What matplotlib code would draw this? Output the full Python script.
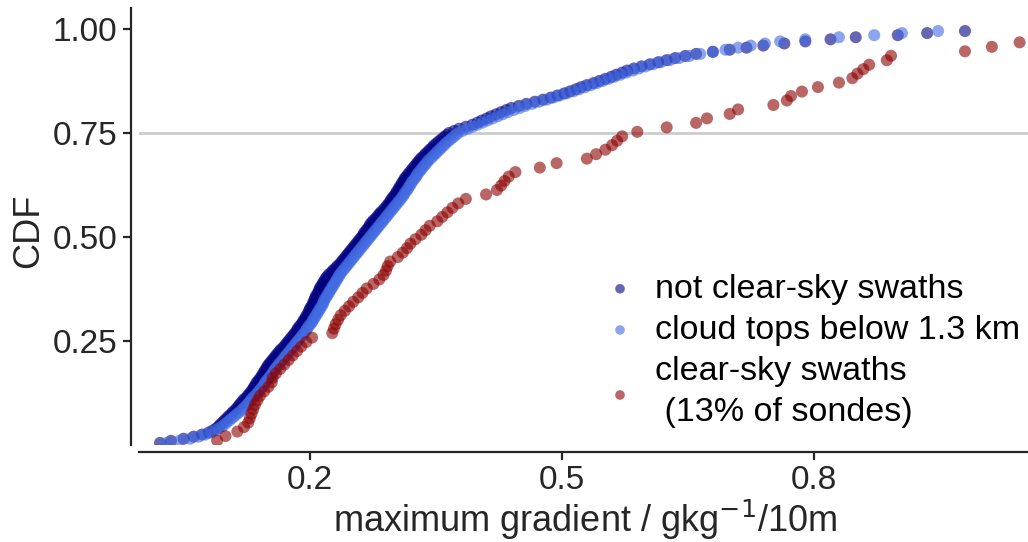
import numpy as np
import matplotlib
matplotlib.use("Agg")
import matplotlib.pyplot as plt

# sorted maximum-gradient values (gkg-1/10m)
not_clear = [
    0.022, 0.035, 0.050, 0.062, 0.072, 0.080, 0.085, 0.089, 0.092, 0.094,
    0.097, 0.099, 0.102, 0.104, 0.107, 0.109, 0.112, 0.114, 0.116, 0.118,
    0.120, 0.122, 0.125, 0.127, 0.129, 0.131, 0.133, 0.134, 0.136, 0.137,
    0.139, 0.141, 0.143, 0.144, 0.146, 0.147, 0.149, 0.150, 0.152, 0.154,
    0.156, 0.158, 0.160, 0.162, 0.164, 0.166, 0.169, 0.171, 0.173, 0.175,
    0.177, 0.179, 0.181, 0.183, 0.185, 0.186, 0.188, 0.190, 0.192, 0.193,
    0.195, 0.196, 0.198, 0.199, 0.200, 0.201, 0.203, 0.204, 0.205, 0.206,
    0.207, 0.208, 0.210, 0.211, 0.212, 0.213, 0.215, 0.216, 0.218, 0.219,
    0.221, 0.223, 0.226, 0.228, 0.231, 0.233, 0.236, 0.238, 0.240, 0.242,
    0.244, 0.246, 0.248, 0.250, 0.252, 0.254, 0.256, 0.258, 0.260, 0.262,
    0.264, 0.265, 0.267, 0.269, 0.271, 0.272, 0.274, 0.276, 0.279, 0.281,
    0.283, 0.285, 0.288, 0.290, 0.292, 0.294, 0.296, 0.297, 0.299, 0.301,
    0.303, 0.304, 0.306, 0.307, 0.309, 0.310, 0.312, 0.313, 0.315, 0.317,
    0.319, 0.321, 0.323, 0.325, 0.327, 0.329, 0.331, 0.333, 0.336, 0.338,
    0.341, 0.343, 0.346, 0.348, 0.351, 0.354, 0.357, 0.360, 0.363, 0.366,
    0.372, 0.378, 0.386, 0.394, 0.400, 0.405, 0.411, 0.416, 0.422, 0.428,
    0.434, 0.440, 0.449, 0.458, 0.468, 0.478, 0.487, 0.495, 0.503, 0.510,
    0.517, 0.523, 0.530, 0.538, 0.545, 0.552, 0.559, 0.565, 0.572, 0.578,
    0.586, 0.595, 0.605, 0.615, 0.625, 0.635, 0.647, 0.660, 0.680, 0.700,
    0.720, 0.740, 0.765, 0.790, 0.820, 0.850, 0.900, 0.935, 0.980,
]

low_tops = [
    0.030, 0.045, 0.058, 0.068, 0.076, 0.083, 0.088, 0.092, 0.096, 0.099,
    0.102, 0.105, 0.108, 0.111, 0.114, 0.117, 0.120, 0.122, 0.125, 0.127,
    0.129, 0.131, 0.133, 0.136, 0.138, 0.140, 0.142, 0.144, 0.146, 0.147,
    0.149, 0.151, 0.153, 0.155, 0.157, 0.158, 0.160, 0.162, 0.164, 0.166,
    0.168, 0.170, 0.172, 0.174, 0.176, 0.178, 0.180, 0.182, 0.184, 0.186,
    0.188, 0.190, 0.192, 0.194, 0.196, 0.197, 0.199, 0.201, 0.203, 0.204,
    0.206, 0.207, 0.209, 0.210, 0.212, 0.213, 0.215, 0.216, 0.217, 0.218,
    0.220, 0.221, 0.223, 0.224, 0.226, 0.227, 0.229, 0.230, 0.232, 0.233,
    0.235, 0.236, 0.238, 0.240, 0.242, 0.244, 0.246, 0.248, 0.250, 0.252,
    0.254, 0.256, 0.258, 0.260, 0.262, 0.264, 0.266, 0.268, 0.270, 0.272,
    0.274, 0.276, 0.278, 0.280, 0.282, 0.284, 0.286, 0.288, 0.290, 0.292,
    0.294, 0.296, 0.298, 0.300, 0.302, 0.304, 0.306, 0.308, 0.310, 0.312,
    0.313, 0.315, 0.317, 0.318, 0.320, 0.321, 0.323, 0.325, 0.327, 0.328,
    0.330, 0.332, 0.334, 0.336, 0.338, 0.340, 0.342, 0.345, 0.347, 0.350,
    0.352, 0.355, 0.357, 0.360, 0.362, 0.365, 0.368, 0.371, 0.374, 0.377,
    0.382, 0.388, 0.394, 0.400, 0.406, 0.412, 0.418, 0.424, 0.430, 0.436,
    0.443, 0.450, 0.457, 0.465, 0.473, 0.482, 0.490, 0.498, 0.506, 0.514,
    0.521, 0.528, 0.535, 0.542, 0.549, 0.556, 0.563, 0.570, 0.577, 0.585,
    0.592, 0.600, 0.609, 0.618, 0.629, 0.640, 0.652, 0.665, 0.680, 0.695,
    0.710, 0.725, 0.742, 0.760, 0.790, 0.830, 0.872, 0.905, 0.948,
]

clear_sky = [
    0.090, 0.100, 0.114, 0.122, 0.127, 0.129, 0.131, 0.133, 0.135, 0.138,
    0.141, 0.146, 0.151, 0.155, 0.156, 0.160, 0.165, 0.170, 0.175, 0.180,
    0.185, 0.190, 0.196, 0.203, 0.227, 0.229, 0.231, 0.234, 0.237, 0.242,
    0.247, 0.252, 0.258, 0.263, 0.268, 0.276, 0.283, 0.288, 0.291, 0.293,
    0.296, 0.305, 0.311, 0.316, 0.320, 0.326, 0.333, 0.338, 0.343, 0.352,
    0.358, 0.364, 0.370, 0.377, 0.386, 0.410, 0.423, 0.428, 0.432, 0.437,
    0.445, 0.474, 0.494, 0.530, 0.541, 0.552, 0.560, 0.566, 0.572, 0.590,
    0.625, 0.660, 0.673, 0.700, 0.710, 0.752, 0.768, 0.773, 0.786, 0.805,
    0.830, 0.846, 0.852, 0.859, 0.866, 0.887, 0.892, 0.980, 1.012, 1.045,
    1.120, 1.250,
]

labels = ["not clear-sky swaths", "cloud tops below 1.3 km",
          "clear-sky swaths\n (13% of sondes)"]
colors = ["navy", "royalblue", "darkred"]
xticks = [0.2, 0.5, 0.8]
yticks = [0.25, 0.50, 0.75, 1.00]


def cdf(values):
    v = np.sort(np.asarray(values, dtype=float))
    return v, np.arange(1, len(v) + 1) / (len(v) + 1)


plt.rcParams["font.family"] = ["Liberation Sans", "DejaVu Sans"]
ink = "#262626"

fig = plt.figure(figsize=(10.28, 5.42), dpi=100)
ax = fig.add_axes([0.1352, 0.179, 0.8648, 0.806])

ax.axhline(0.75, color="#cccccc", lw=2, zorder=0)
for vals, lab, col in zip([not_clear, low_tops, clear_sky], labels, colors):
    x, y = cdf(vals)
    ax.scatter(x, y, s=75, color=col, alpha=0.6, edgecolors="none", label=lab)

ax.set_xlim(-0.003, 1.055)
ax.set_ylim(0, 1.05)
ax.set_xticks(xticks)
ax.set_xticklabels(["0.2", "0.5", "0.8"])
ax.set_yticks(yticks)
ax.set_yticklabels(["0.25", "0.50", "0.75", "1.00"])

for side in ["top", "right"]:
    ax.spines[side].set_visible(False)
ax.spines["left"].set_position(("outward", 6))
ax.spines["bottom"].set_position(("outward", 5))
for side in ["left", "bottom"]:
    ax.spines[side].set_linewidth(1.6)
    ax.spines[side].set_color(ink)
ax.tick_params(width=1.6, length=6, color=ink, labelcolor=ink, labelsize=24)

ax.set_xlabel("maximum gradient / gkg$^{-1}$/10m", fontsize=26, color=ink)
ax.set_ylabel("CDF", fontsize=26, color=ink)
ax.xaxis.set_label_coords(0.502, -0.122)
ax.yaxis.set_label_coords(-0.104, 0.49)

leg = ax.legend(loc="lower right", bbox_to_anchor=(1.018, -0.015),
                frameon=False, fontsize=24.5, markerscale=0.8,
                handlelength=1.4, handletextpad=0.33, labelspacing=0.3,
                borderpad=0.2)
for t in leg.get_texts():
    t.set_linespacing(1.4)

fig.savefig("out.png", dpi=100)
